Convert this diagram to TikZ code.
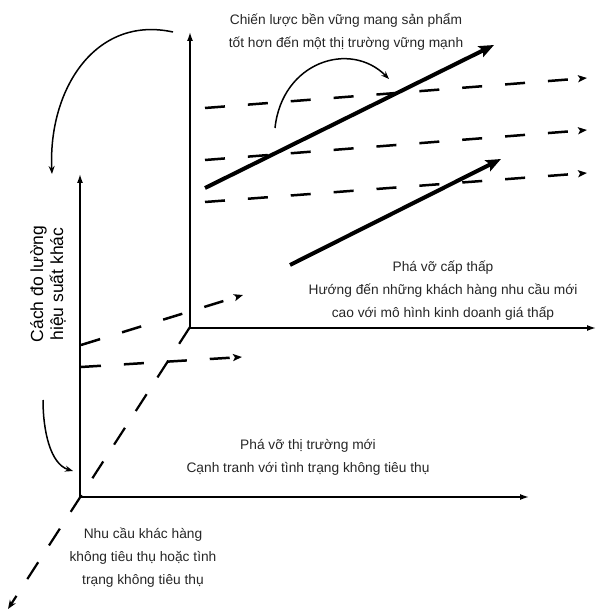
\documentclass[tikz,border=0pt]{standalone}
\usepackage{fontspec}
\setmainfont{Liberation Sans}
\usetikzlibrary{arrows.meta}
\begin{document}
\begin{tikzpicture}[x=1pt,y=-1pt,
  axis/.style={line width=1.5pt,-{Latex[length=9pt,width=6pt]}},
  dline/.style={line width=2.5pt,dash pattern=on 20pt off 23pt,-{Stealth[length=9pt,width=7pt,inset=2pt]}},
  thickarrow/.style={line width=4pt,-{Stealth[length=15pt,width=12pt,inset=3pt]}},
  curvearrow/.style={line width=1.5pt,-{Stealth[length=8pt,width=6pt]}},
  lbl/.style={font=\fontsize{13.75}{23}\selectfont,align=center,text=black!85,inner sep=1pt}]
\useasboundingbox (0,0) rectangle (597,612);
% back axes
\coordinate (B0) at (190,328);
\coordinate (BY) at (190,32);
\coordinate (BX) at (596,328);
\draw[axis] (B0) -- (BY);
\draw[axis] (B0) -- (BX);
% front axes
\coordinate (F0) at (80,497);
\coordinate (FY) at (80,174);
\coordinate (FX) at (529,497);
\draw[axis] (F0) -- (FY);
\draw[axis] (F0) -- (FX);
% diagonal depth axis
\coordinate (D0) at (190,327);
\coordinate (D1) at (8,609);
\draw[line width=2.2pt,dash pattern=on 20pt off 20pt,-{Stealth[length=9pt,width=7pt]}] (D0) -- (D1);
% lower dashed lines
\coordinate (L1a) at (81,345);
\coordinate (L1b) at (243,295);
\coordinate (L2a) at (81,367);
\coordinate (L2b) at (242,357);
\draw[dline] (L1a) -- (L1b);
\draw[dline] (L2a) -- (L2b);
% upper dashed lines
\coordinate (U1a) at (205,108);
\coordinate (U1b) at (587,78);
\coordinate (U2a) at (205,160);
\coordinate (U2b) at (587,130);
\coordinate (U3a) at (205,202);
\coordinate (U3b) at (587,173);
\draw[dline] (U1a) -- (U1b);
\draw[dline] (U2a) -- (U2b);
\draw[dline] (U3a) -- (U3b);
% thick arrows
\coordinate (Aa) at (205,188);
\coordinate (Ab) at (494,45);
\coordinate (Ba) at (290,265);
\coordinate (Bb) at (501,159);
\draw[thickarrow] (Aa) -- (Ab);
\draw[thickarrow] (Ba) -- (Bb);
% curved arrows
\coordinate (C1a) at (173,32);
\coordinate (C1b) at (52,174);
\draw[curvearrow] (C1a) .. controls (95,15) and (48,90) .. (C1b);
\coordinate (C2a) at (43,400);
\coordinate (C2b) at (73,471);
\draw[curvearrow] (C2a) .. controls (43,430) and (50,464) .. (C2b);
\coordinate (C3a) at (275,128);
\coordinate (C3b) at (389,79);
\draw[curvearrow] (C3a) .. controls (282,62) and (350,40) .. (C3b);
% labels
\node[lbl] (top) at (346,31.5) {Chiến lược bền vững mang sản phẩm\\tốt hơn đến một thị trường vững mạnh};
\node[lbl] (low) at (443,291) {Phá vỡ cấp thấp\\Hướng đến những khách hàng nhu cầu mới\\cao với mô hình kinh doanh giá thấp};
\node[lbl] (new) at (308,457) {Phá vỡ thị trường mới\\Cạnh tranh với tình trạng không tiêu thụ};
\node[lbl] (need) at (143,558) {Nhu cầu khác hàng\\không tiêu thụ hoặc tình\\trạng không tiêu thụ};
\node[lbl,font=\fontsize{17.5}{20}\selectfont,text=black,rotate=90] (meas) at (48,284) {Cách đo lường\\hiệu suất khác};
\end{tikzpicture}
\end{document}
